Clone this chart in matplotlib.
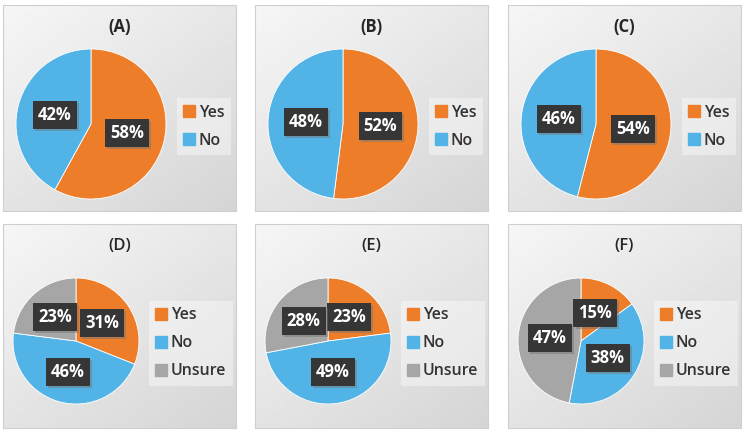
import numpy as np
import matplotlib
matplotlib.use('Agg')
import matplotlib.pyplot as plt
from matplotlib.lines import Line2D
from matplotlib.patches import Rectangle
import matplotlib.patheffects as pe

plt.rcParams['font.family'] = ['Open Sans', 'DejaVu Sans']

titles = ['(A)', '(B)', '(C)', '(D)', '(E)', '(F)']
labels_2 = ['Yes', 'No']
labels_3 = ['Yes', 'No', 'Unsure']
values = [
    [58, 42],
    [52, 48],
    [54, 46],
    [31, 46, 23],
    [23, 49, 28],
    [15, 38, 47],
]
colors = ['#EE7D2A', '#52B4E6', '#A6A6A6']

W, H = 744, 432
col_x = [3, 255, 508]
row_y = [5, 224]
row_h = [206, 204]
pw = 233

fig = plt.figure(figsize=(W / 100, H / 100), dpi=100)
fig.patch.set_facecolor('white')

for i, (title, vals) in enumerate(zip(titles, values)):
    row, col = divmod(i, 3)
    x0, y0, ph = col_x[col], row_y[row], row_h[row]
    ax = fig.add_axes([x0 / W, 1 - (y0 + ph) / H, pw / W, ph / H])

    # gradient background, light at top-left, darker to bottom-right
    yy, xx = np.mgrid[0:1:100j, 0:1:100j]
    t = 0.55 * yy + 0.45 * xx
    ax.imshow(0.965 - 0.13 * t, cmap='gray', vmin=0, vmax=1,
              extent=(0, pw, 0, ph), aspect='auto', zorder=0)

    if row == 0:
        cx, cy, r = 88, ph - 119, 75
    else:
        cx, cy, r = 73, ph - 117, 63
    wedges, _ = ax.pie(vals, colors=colors[:len(vals)], startangle=90,
                       counterclock=False, center=(cx, cy), radius=r,
                       wedgeprops=dict(edgecolor='white', linewidth=0.6))
    ax.set_xlim(0, pw)
    ax.set_ylim(0, ph)
    ax.axis('off')
    ax.add_patch(Rectangle((0, 0), pw, ph, fill=False, edgecolor='#cfcfcf',
                           linewidth=0.8, zorder=5, clip_on=False))

    for w, v in zip(wedges, vals):
        mid = np.radians((w.theta1 + w.theta2) / 2)
        lx = cx + 0.5 * r * np.cos(mid)
        ly = cy + 0.5 * r * np.sin(mid)
        t = ax.text(lx, ly, '%d%%' % v, ha='center', va='center',
                    fontsize=12, fontweight='bold', color='white',
                    bbox=dict(boxstyle='square,pad=0.3', fc='#363636',
                              ec='none'), zorder=7)
        t.get_bbox_patch().set_path_effects([
            pe.SimplePatchShadow(offset=(1.5, -1.5), shadow_rgbFace='#777777',
                                 alpha=0.5),
            pe.Normal()])

    ax.text(pw / 2, ph - 22, title, ha='center', va='center', fontsize=12,
            fontweight='bold' if row == 0 else 'semibold', color='#262626',
            zorder=7)

    labs = labels_2 if len(vals) == 2 else labels_3
    handles = [Line2D([], [], marker='s', linestyle='none', markersize=8,
                      color=colors[k]) for k in range(len(labs))]
    lx0 = 0.745 if row == 0 else 0.625
    leg = ax.legend(handles, labs, loc='center left',
                    bbox_to_anchor=(lx0, 0.41 if row == 0 else 0.415),
                    frameon=True, fancybox=False, fontsize=11.5,
                    handlelength=0.7, handletextpad=0.3, labelspacing=0.75,
                    borderpad=0.4, borderaxespad=0)
    leg.get_frame().set_facecolor('white')
    leg.get_frame().set_alpha(0.4)
    leg.get_frame().set_edgecolor('none')
    leg.set_zorder(8)
    for txt in leg.get_texts():
        txt.set_color('#333333')
        txt.set_fontweight('semibold')

fig.savefig('out.png', dpi=100)
